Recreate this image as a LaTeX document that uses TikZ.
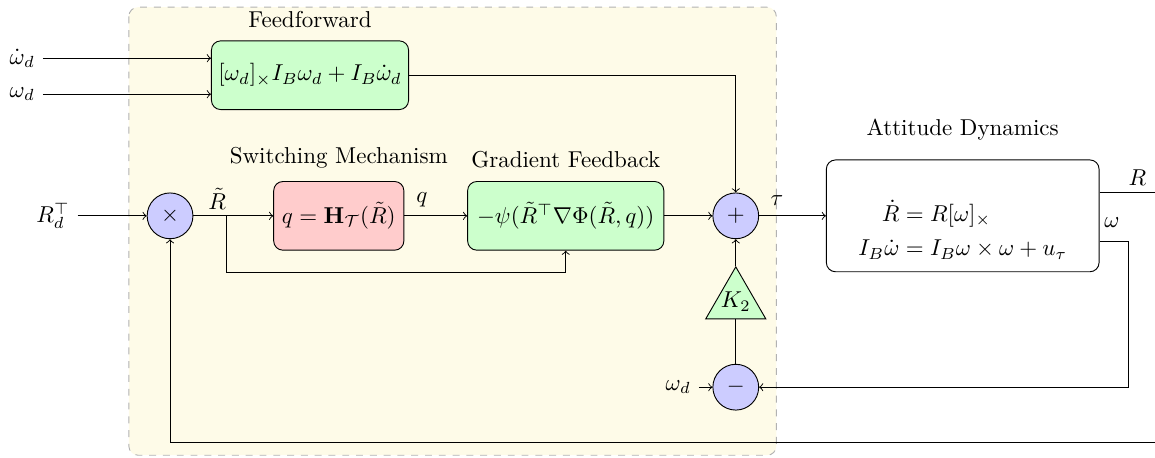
\documentclass[tikz,border=0pt]{standalone}
\usepackage{amsmath,amssymb}
\usetikzlibrary{shapes.geometric}
\definecolor{nenvang}{RGB}{254,251,232}

\begin{document}
\begin{tikzpicture}[>=to,
    khoi/.style={draw, rounded corners=4pt, minimum height=1.05cm, inner sep=3pt},
    tong/.style={draw, circle, fill=blue!20, minimum size=0.7cm, inner sep=0pt},
    giatri/.style={draw, fill=green!20, regular polygon, regular polygon sides=3, minimum size=1.06cm, inner sep=0pt}]
    \useasboundingbox (0,0) rectangle (17.66,-7.0);

    % Vẽ vùng bộ điều khiển
    \draw[gray!60, dashed, rounded corners=4pt, fill=nenvang] (1.97,-0.11) rectangle (11.87,-6.96);

    % Các khối chính
    \node[khoi, fill=green!20, minimum width=2.98cm] (ff) at (4.74,-1.15) {$[\omega_d]_\times I_B\omega_d + I_B\dot{\omega}_d$};
    \node[khoi, fill=red!20, minimum width=1.99cm] (sw) at (5.18,-3.30) {$q=\mathbf{H}_{\mathcal{T}}(\tilde{R})$};
    \node[khoi, fill=green!20, minimum width=3.0cm] (gf) at (8.65,-3.30) {$-\psi(\tilde{R}^\top\nabla\Phi(\tilde{R},q))$};
    \node[khoi, minimum width=4.17cm, minimum height=1.71cm] (dyn) at (14.72,-3.30) {};
    \node (pt) at (14.72,-3.55) {$\begin{aligned}\dot{R} &= R[\omega]_\times\\ I_B\dot{\omega} &= I_B\omega\times\omega + u_\tau\end{aligned}$};

    % Tên các khối
    \node (tff) [above=2pt] at (ff.north) {Feedforward};
    \node (tsw) [above=2pt] at (sw.north) {Switching Mechanism};
    \node (tgf) [above=2pt] at (gf.north) {Gradient Feedback};
    \node (tdyn) [above=5pt] at (dyn.north) {Attitude Dynamics};

    % Nút tổng, nút nhân và độ lợi
    \node[tong] (nhan) at (2.60,-3.30) {$\times$};
    \node[tong] (cong) at (11.25,-3.30) {$+$};
    \node[tong] (tru) at (11.25,-5.92) {$-$};
    \node[giatri] (k2) at (11.25,-4.61) {};
    \node (k2t) at (k2.center) {$K_2$};

    % Tín hiệu vào
    \node (wdd) at (0.34,-0.89) {$\dot{\omega}_d$};
    \node (wd) at (0.34,-1.44) {$\omega_d$};
    \node (rd) at (0.81,-3.30) {$R_d^\top$};
    \node (wdb) at (10.37,-5.92) {$\omega_d$};

    % Các điểm rẽ nhánh
    \coordinate (re) at (3.47,-3.30);
    \coordinate (reb) at (3.47,-4.17);
    \coordinate (rra) at (17.66,-2.94);
    \coordinate (wra) at (17.26,-3.69);
    \coordinate (vong) at (17.66,-6.77);

    % Vẽ các mũi tên
    \draw[->] (wdd.east) -- (wdd.east -| ff.west);
    \draw[->] (wd.east) -- (wd.east -| ff.west);
    \draw[->] (ff.east) -| (cong.north);
    \draw[->] (rd.east) -- (nhan.west);
    \draw[->] (nhan.east) -- (sw.west);
    \draw[->] (re) -- (reb) -| (gf.south);
    \draw[->] (sw.east) -- (gf.west);
    \draw[->] (gf.east) -- (cong.west);
    \draw[->] (cong.east) -- (dyn.west);
    \draw[->] (k2.north) -- (cong.south);
    \draw (tru.north) -- (k2.south);
    \draw[->] (wdb.east) -- (tru.west);
    \draw (dyn.east |- rra) -- (rra);
    \draw[->] (dyn.east |- wra) -- (wra) |- (tru.east);
    \draw[->] (vong) -| (nhan.south);

    % Nhãn trên các đường
    \node (lrt) at (3.32,-3.04) {$\tilde{R}$};
    \node (lq) at (6.45,-3.06) {$q$};
    \node (ltau) at (11.88,-3.06) {$\tau$};
    \node (lr) at (17.39,-2.71) {$R$};
    \node (lw) at (17.0,-3.41) {$\omega$};
\end{tikzpicture}
\end{document}
